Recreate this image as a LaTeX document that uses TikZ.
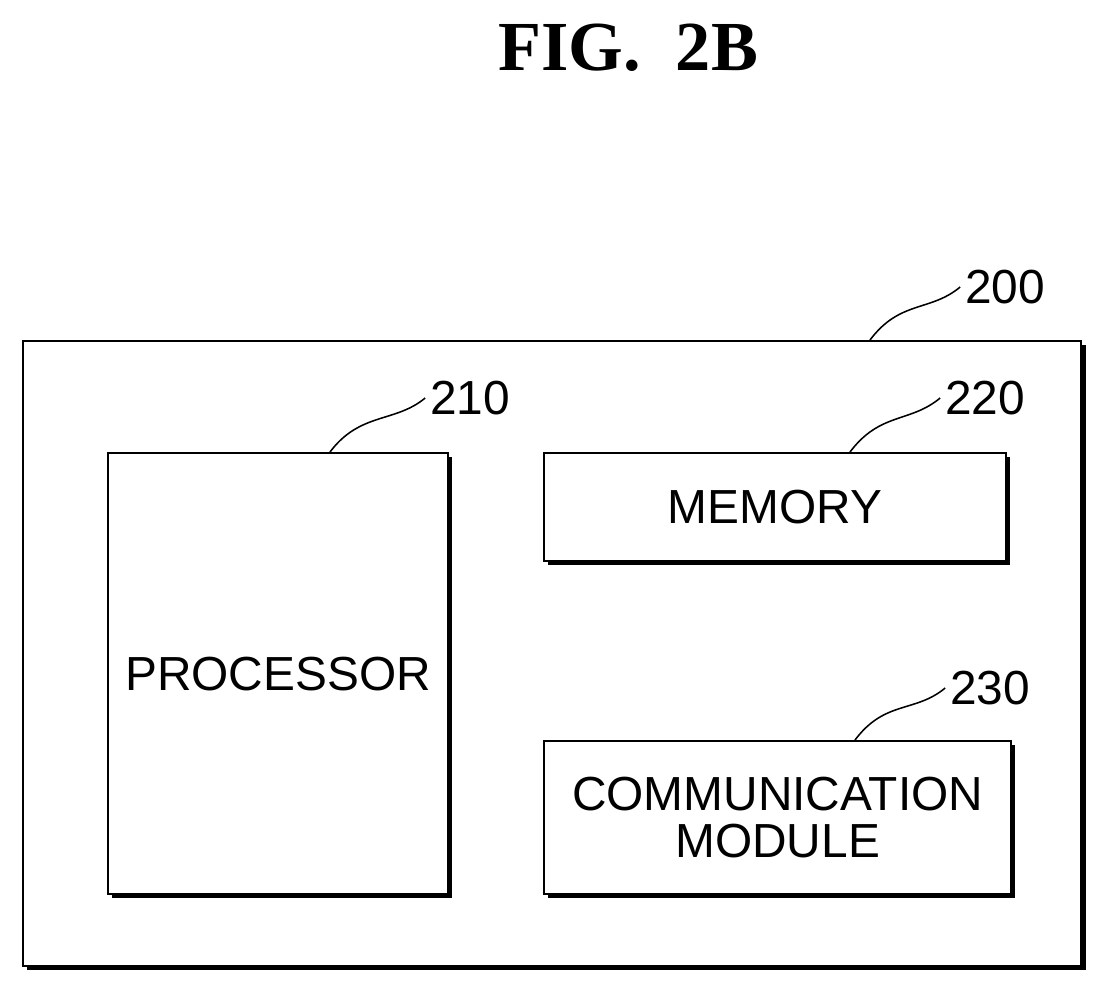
\documentclass[tikz,border=0pt]{standalone}
\usepackage{fontspec}
\setmainfont{Liberation Sans}
\newfontfamily\figfont{Liberation Serif}
\begin{document}
\begin{tikzpicture}[x=0.025cm,y=-0.025cm,
    box/.style={draw,line width=1.6pt,fill=white,inner sep=0pt,
      font=\fontsize{34}{38}\selectfont,align=center},
    shade/.style={fill=black},
    refnum/.style={font=\fontsize{34}{38}\selectfont},
    lead/.style={line width=1.1pt}]
  \useasboundingbox (0,0) rectangle (1108,990);

  \node[font=\figfont\bfseries\fontsize{50}{56}\selectfont] (fig) at (628,48) {FIG.\ \ 2B};

  % outer device
  \fill[shade] (27,345) rectangle (1086,970);
  \node[box,minimum width=1058*0.025cm,minimum height=625*0.025cm,anchor=north west] (dev) at (22,340) {};

  % inner blocks
  \begin{scope}[every node/.append style={anchor=north west}]
    \fill[shade] (112,457) rectangle (452,898);
    \node[box,minimum width=340*0.025cm,minimum height=441*0.025cm] (proc) at (107,452) {PROCESSOR};
    \fill[shade] (548,457) rectangle (1010,565);
    \node[box,minimum width=462*0.025cm,minimum height=108*0.025cm] (mem) at (543,452) {MEMORY};
    \fill[shade] (548,745) rectangle (1015,898);
    \node[box,minimum width=467*0.025cm,minimum height=153*0.025cm] (comm) at (543,740) {COMMUNICATION\\[-4pt]MODULE};
  \end{scope}

  % reference numerals
  \node[refnum] (n200) at (1005,287) {200};
  \node[refnum] (n210) at (470,398) {210};
  \node[refnum] (n220) at (985,398) {220};
  \node[refnum] (n230) at (990,688) {230};

  \coordinate (c200) at (870,340);
  \coordinate (c210) at (330,452);
  \coordinate (c220) at (850,452);
  \coordinate (c230) at (855,740);

  \draw[lead] (c200) .. controls +(30,-40) and +(-30,25) .. (n200.west);
  \draw[lead] (c210) .. controls +(30,-40) and +(-30,25) .. (n210.west);
  \draw[lead] (c220) .. controls +(30,-40) and +(-30,25) .. (n220.west);
  \draw[lead] (c230) .. controls +(30,-40) and +(-30,25) .. (n230.west);
\end{tikzpicture}
\end{document}
